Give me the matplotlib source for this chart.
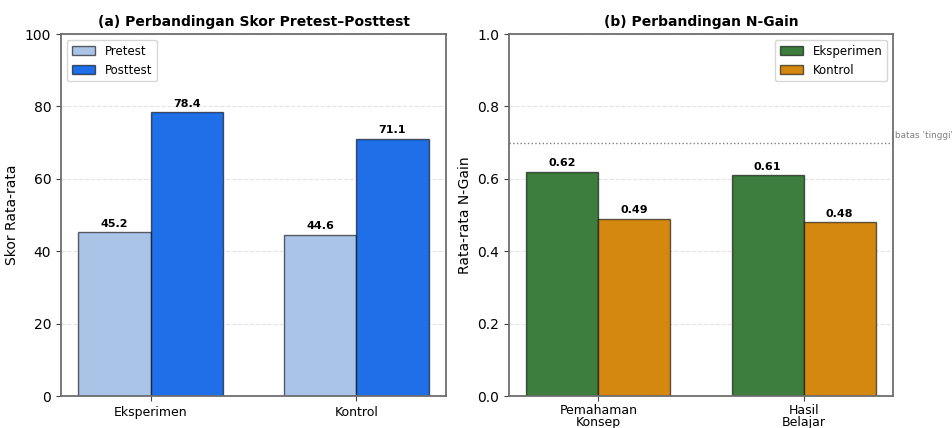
import numpy as np
import matplotlib
matplotlib.use('Agg')
import matplotlib.pyplot as plt

# data
groups = ['Eksperimen', 'Kontrol']
pretest = [45.2, 44.6]
posttest = [78.4, 71.1]

aspects = ['Pemahaman\nKonsep', 'Hasil\nBelajar']
ngain_eks = [0.62, 0.61]
ngain_kon = [0.49, 0.48]
batas_tinggi = 0.7

fig = plt.figure(figsize=(9.52, 4.28), dpi=100)
ax1 = fig.add_axes([61/952, 1 - 396/428, 385/952, 362/428])
ax2 = fig.add_axes([509/952, 1 - 396/428, 384/952, 362/428])

w = 0.35
x = np.arange(len(groups))
edge = (0, 0, 0, 0.6)

# (a) pretest vs posttest
b1 = ax1.bar(x - w/2, pretest, w, label='Pretest', color='#aac4e8', edgecolor=edge, linewidth=1)
b2 = ax1.bar(x + w/2, posttest, w, label='Posttest', color='#1f6fe8', edgecolor=edge, linewidth=1)
for bars in (b1, b2):
    for b in bars:
        ax1.text(b.get_x() + b.get_width()/2, b.get_height() + 1, f'{b.get_height():.1f}',
                 ha='center', va='bottom', fontsize=8, fontweight='bold')
ax1.set_ylim(0, 100)
ax1.set_xticks(x)
ax1.set_xticklabels(groups)
ax1.set_ylabel('Skor Rata-rata', fontsize=10)
ax1.set_title('(a) Perbandingan Skor Pretest\u2013Posttest', fontsize=10, fontweight='bold')
ax1.legend(loc='upper left', fontsize=8.5)

# (b) n-gain
c1 = ax2.bar(x - w/2, ngain_eks, w, label='Eksperimen', color='#3d7d3d', edgecolor=edge, linewidth=1)
c2 = ax2.bar(x + w/2, ngain_kon, w, label='Kontrol', color='#d48810', edgecolor=edge, linewidth=1)
for bars in (c1, c2):
    for b in bars:
        ax2.text(b.get_x() + b.get_width()/2, b.get_height() + 0.01, f'{b.get_height():.2f}',
                 ha='center', va='bottom', fontsize=8, fontweight='bold')
ax2.axhline(batas_tinggi, color='gray', linestyle=':', linewidth=1)
ax2.text(1.005, batas_tinggi + 0.02, "batas 'tinggi'", transform=ax2.get_yaxis_transform(),
         fontsize=6.4, color='gray', va='center', ha='left', clip_on=False)
ax2.set_ylim(0, 1.0)
ax2.set_xticks(x)
ax2.set_xticklabels(aspects, linespacing=0.95)
ax2.set_ylabel('Rata-rata N-Gain', fontsize=10)
ax2.set_title('(b) Perbandingan N-Gain', fontsize=10, fontweight='bold')
ax2.legend(loc='upper right', fontsize=8.5)

for ax in (ax1, ax2):
    ax.grid(axis='y', linestyle='--', alpha=0.35)
    ax.set_axisbelow(True)
    for s in ax.spines.values():
        s.set_color('#6e6e6e')
        s.set_linewidth(1.3)
    ax.tick_params(labelsize=10, color='#444444')
    ax.tick_params(axis='x', labelsize=9)
ax2.tick_params(axis='x', pad=2)

fig.savefig('out.png', dpi=100)
